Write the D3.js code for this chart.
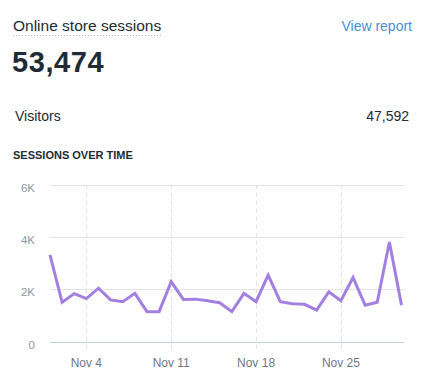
<!DOCTYPE html>
<html>
<head>
<meta charset="utf-8">
<script src="https://cdn.jsdelivr.net/npm/d3@7"></script>
<style>
  body { margin: 0; background: #fff; }
  text { font-family: "Liberation Sans", "Helvetica Neue", Arial, sans-serif; }
</style>
</head>
<body>
<div id="chart"></div>
<script>
// card data
var totalSessions = "53,474";
var visitorsLabel = "Visitors";
var visitorsValue = "47,592";

// daily sessions, Nov 1 - Nov 30
var days = d3.range(1, 31);
var sessions = [3320, 1510, 1840, 1650, 2050, 1600, 1530, 1850, 1150, 1150,
                2300, 1620, 1630, 1570, 1490, 1150, 1850, 1530, 2550, 1530,
                1450, 1430, 1210, 1910, 1570, 2460, 1400, 1510, 3820, 1400];
var yTicks = [0, 2000, 4000, 6000];
var xTickDays = [4, 11, 18, 25];

var svgWidth = 428;
var svgHeight = 385;

var svg = d3.select("#chart")
  .append("svg")
  .attr("width", svgWidth)
  .attr("height", svgHeight);

// header
svg.append("text")
  .attr("x", 13)
  .attr("y", 31)
  .attr("font-size", 15.5)
  .attr("fill", "#212b36")
  .text("Online store sessions");

svg.append("line")
  .attr("x1", 13).attr("x2", 163)
  .attr("y1", 35.5).attr("y2", 35.5)
  .attr("stroke", "#aab4bf")
  .attr("stroke-width", 1)
  .attr("stroke-dasharray", "1,2");

svg.append("text")
  .attr("x", 412)
  .attr("y", 31)
  .attr("text-anchor", "end")
  .attr("font-size", 14)
  .attr("fill", "#4a8fd6")
  .text("View report");

svg.append("text")
  .attr("x", 12)
  .attr("y", 72)
  .attr("font-size", 29)
  .attr("font-weight", 600)
  .attr("letter-spacing", 0.6)
  .attr("fill", "#212b36")
  .text(totalSessions);

svg.append("text")
  .attr("x", 15)
  .attr("y", 121)
  .attr("font-size", 14)
  .attr("fill", "#212b36")
  .text(visitorsLabel);

svg.append("text")
  .attr("x", 409)
  .attr("y", 121)
  .attr("text-anchor", "end")
  .attr("font-size", 14)
  .attr("fill", "#212b36")
  .text(visitorsValue);

svg.append("text")
  .attr("x", 13)
  .attr("y", 159)
  .attr("font-size", 11)
  .attr("font-weight", 700)
  .attr("fill", "#212b36")
  .text("SESSIONS OVER TIME");

// chart
var x = d3.scaleLinear()
  .domain([1, 30])
  .range([50, 401.5]);

var y = d3.scaleLinear()
  .domain([0, 6000])
  .range([341.7, 185]);

var chartGroup = svg.append("g");

// vertical dashed lines
chartGroup.selectAll(".vgrid")
  .data(xTickDays)
  .enter()
  .append("line")
  .attr("x1", d => Math.round(x(d)) + 0.5)
  .attr("x2", d => Math.round(x(d)) + 0.5)
  .attr("y1", y(6000))
  .attr("y2", y(0) + 8)
  .attr("stroke", "#dfe3e8")
  .attr("stroke-dasharray", "4,4");

// horizontal gridlines
chartGroup.selectAll(".hgrid")
  .data(yTicks)
  .enter()
  .append("line")
  .attr("x1", 50)
  .attr("x2", 404)
  .attr("y1", d => Math.round(y(d)) + 0.5)
  .attr("y2", d => Math.round(y(d)) + 0.5)
  .attr("stroke", d => d === 0 ? "#c3cfe6" : "#e1e3e5")
  .attr("stroke-width", 1);

// y tick labels
chartGroup.selectAll(".ylab")
  .data(yTicks)
  .enter()
  .append("text")
  .attr("x", 35)
  .attr("y", d => y(d) + 7)
  .attr("text-anchor", "end")
  .attr("font-size", 11.5)
  .attr("fill", "#8c97a3")
  .text(d => d === 0 ? "0" : (d / 1000) + "K");

// x tick labels
chartGroup.selectAll(".xlab")
  .data(xTickDays)
  .enter()
  .append("text")
  .attr("x", d => x(d))
  .attr("y", 366.5)
  .attr("text-anchor", "middle")
  .attr("font-size", 12)
  .attr("fill", "#6b7785")
  .text(d => "Nov " + d);

// sessions line
var line = d3.line()
  .x((d, i) => x(days[i]))
  .y(d => y(d));

chartGroup.append("path")
  .datum(sessions)
  .attr("d", line)
  .attr("fill", "none")
  .attr("stroke", "#a47fe2")
  .attr("stroke-width", 3)
  .attr("stroke-linejoin", "miter")
  .attr("stroke-linecap", "butt");
</script>
</body>
</html>
